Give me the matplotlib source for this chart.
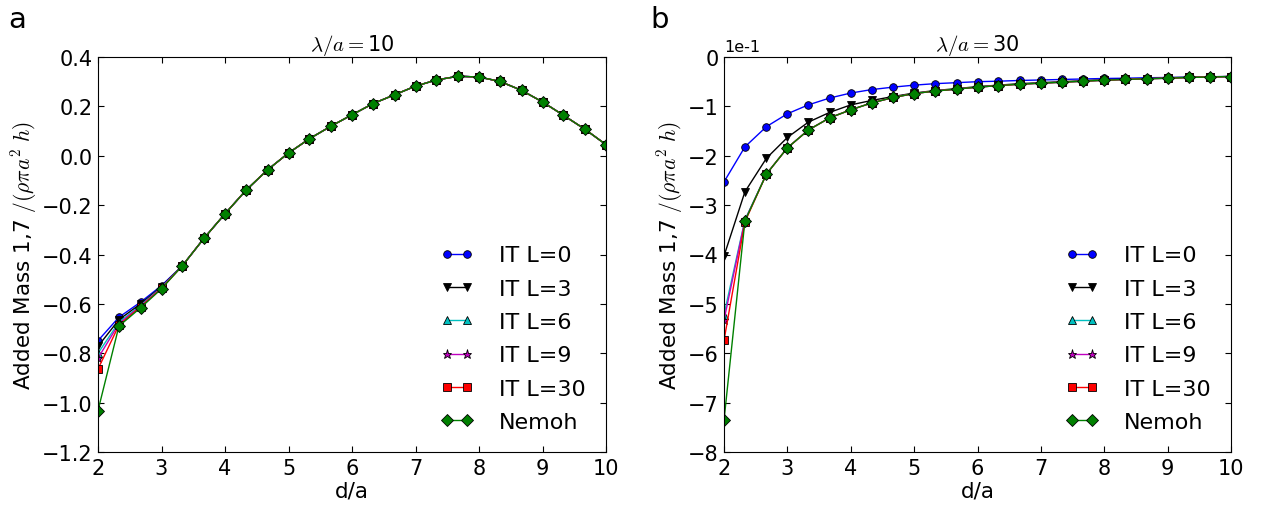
import numpy as np
import matplotlib
matplotlib.use("Agg")
import matplotlib.pyplot as plt
from matplotlib.ticker import ScalarFormatter

# d/a sample points (shared by both panels)
d_a = [2.0, 2.33, 2.67, 3.0, 3.33, 3.67, 4.0, 4.33, 4.67, 5.0, 5.33, 5.67, 6.0,
       6.33, 6.67, 7.0, 7.33, 7.67, 8.0, 8.33, 8.67, 9.0, 9.33, 9.67, 10.0]

labels = ["IT L=0", "IT L=3", "IT L=6", "IT L=9", "IT L=30", "Nemoh"]

# panel a: lambda/a = 10 -- the curves only separate for the first few points
a_tail = [-0.445, -0.334, -0.235, -0.14, -0.057, 0.011, 0.069, 0.12, 0.166,
          0.211, 0.247, 0.282, 0.307, 0.322, 0.319, 0.301, 0.265, 0.218,
          0.164, 0.107, 0.045]
a_head_L0 = [-0.749, -0.654, -0.593, -0.526]
a_head_L3 = [-0.772, -0.664, -0.600, -0.530]
a_head_L6 = [-0.800, -0.674, -0.606, -0.533]
a_head_L9 = [-0.820, -0.680, -0.609, -0.535]
a_head_L30 = [-0.864, -0.686, -0.612, -0.537]
a_head_nemoh = [-1.032, -0.690, -0.616, -0.539]

# panel b: lambda/a = 30 (values in units of 1e-1)
b_L0 = [-2.53, -1.82, -1.41, -1.15, -0.97, -0.83, -0.73, -0.66, -0.61, -0.57,
        -0.54, -0.52, -0.50, -0.49, -0.475, -0.465, -0.455, -0.445, -0.435,
        -0.43, -0.42, -0.415, -0.41, -0.40, -0.395]
b_L3 = [-4.03, -2.73, -2.05, -1.63, -1.32, -1.12, -0.97, -0.88, -0.80, -0.73,
        -0.68, -0.64, -0.60, -0.57, -0.54, -0.52, -0.50, -0.48, -0.46, -0.45,
        -0.44, -0.42, -0.41, -0.40, -0.395]
b_nemoh = [-7.36, -3.32, -2.37, -1.84, -1.48, -1.23, -1.07, -0.93, -0.82,
           -0.74, -0.69, -0.65, -0.61, -0.58, -0.55, -0.53, -0.51, -0.49,
           -0.47, -0.455, -0.44, -0.43, -0.415, -0.405, -0.395]
b_head_L6 = [-5.22, -3.30]
b_head_L9 = [-5.33, -3.31]
b_head_L30 = [-5.74, -3.34]


def main():
    plt.rcParams["font.family"] = "DejaVu Sans"
    plt.rcParams["mathtext.fontset"] = "cm"
    plt.rcParams["xtick.direction"] = "in"
    plt.rcParams["ytick.direction"] = "in"
    plt.rcParams["xtick.top"] = True
    plt.rcParams["ytick.right"] = True
    plt.rcParams["xtick.major.size"] = 4
    plt.rcParams["ytick.major.size"] = 4

    styles = [("b", "o", 5.5), ("k", "v", 6), ("c", "^", 6),
              ("m", "*", 6.5), ("r", "s", 5.5), ("g", "D", 6)]

    fig = plt.figure(figsize=(12.61, 5.10), dpi=100)
    ax1 = fig.add_axes([98 / 1261, 1 - 453 / 510, 508 / 1261, 395 / 510])
    ax2 = fig.add_axes([724 / 1261, 1 - 453 / 510, 507 / 1261, 395 / 510])

    a_series = [a_head_L0 + a_tail, a_head_L3 + a_tail, a_head_L6 + a_tail,
                a_head_L9 + a_tail, a_head_L30 + a_tail, a_head_nemoh + a_tail]
    b_series = [b_L0, b_L3, b_head_L6 + b_nemoh[2:], b_head_L9 + b_nemoh[2:],
                b_head_L30 + b_nemoh[2:], b_nemoh]
    b_series = [np.array(s) * 0.1 for s in b_series]

    for ax, series in [(ax1, a_series), (ax2, b_series)]:
        for (col, mk, ms), vals, lab in zip(styles, series, labels):
            ax.plot(d_a, vals, color=col, marker=mk, markersize=ms,
                    markeredgecolor="k", markeredgewidth=0.6, linewidth=1,
                    label=lab)
        ax.set_xlim(2, 10)
        ax.set_xticks(range(2, 11))
        ax.set_xlabel("d/a", fontsize=15.5, labelpad=2)
        ax.set_ylabel(r"Added Mass 1,7 $/(\rho\pi a^2\ h)$", fontsize=15.5,
                      labelpad=2)
        ax.tick_params(labelsize=15, pad=4)
        ax.legend(loc="lower right", frameon=False, numpoints=2, fontsize=16,
                  handlelength=1.5, handletextpad=1.13, labelspacing=0.6,
                  borderpad=0.4, borderaxespad=0.5)

    ax1.set_ylim(-1.2, 0.4)
    ax1.set_yticks(np.arange(-1.2, 0.41, 0.2))
    ax1.set_title(r"$\lambda/a=$10", fontsize=15, pad=4)

    ax2.set_ylim(-0.8, 0.0)
    fmt = ScalarFormatter()
    fmt.set_powerlimits((0, 0))
    ax2.yaxis.set_major_formatter(fmt)
    ax2.yaxis.get_offset_text().set_visible(False)
    ax2.text(0.0, 1.008, "1e-1", transform=ax2.transAxes, fontsize=11.5,
             va="bottom", ha="left")
    ax2.set_title(r"$\lambda/a=$30", fontsize=15, pad=4)

    fig.text(8 / 1261, 1 - 20 / 510, "a", fontsize=21, va="center")
    fig.text(650 / 1261, 1 - 20 / 510, "b", fontsize=21, va="center")

    fig.savefig("out.png", dpi=100, facecolor="white")


if __name__ == "__main__":
    main()
